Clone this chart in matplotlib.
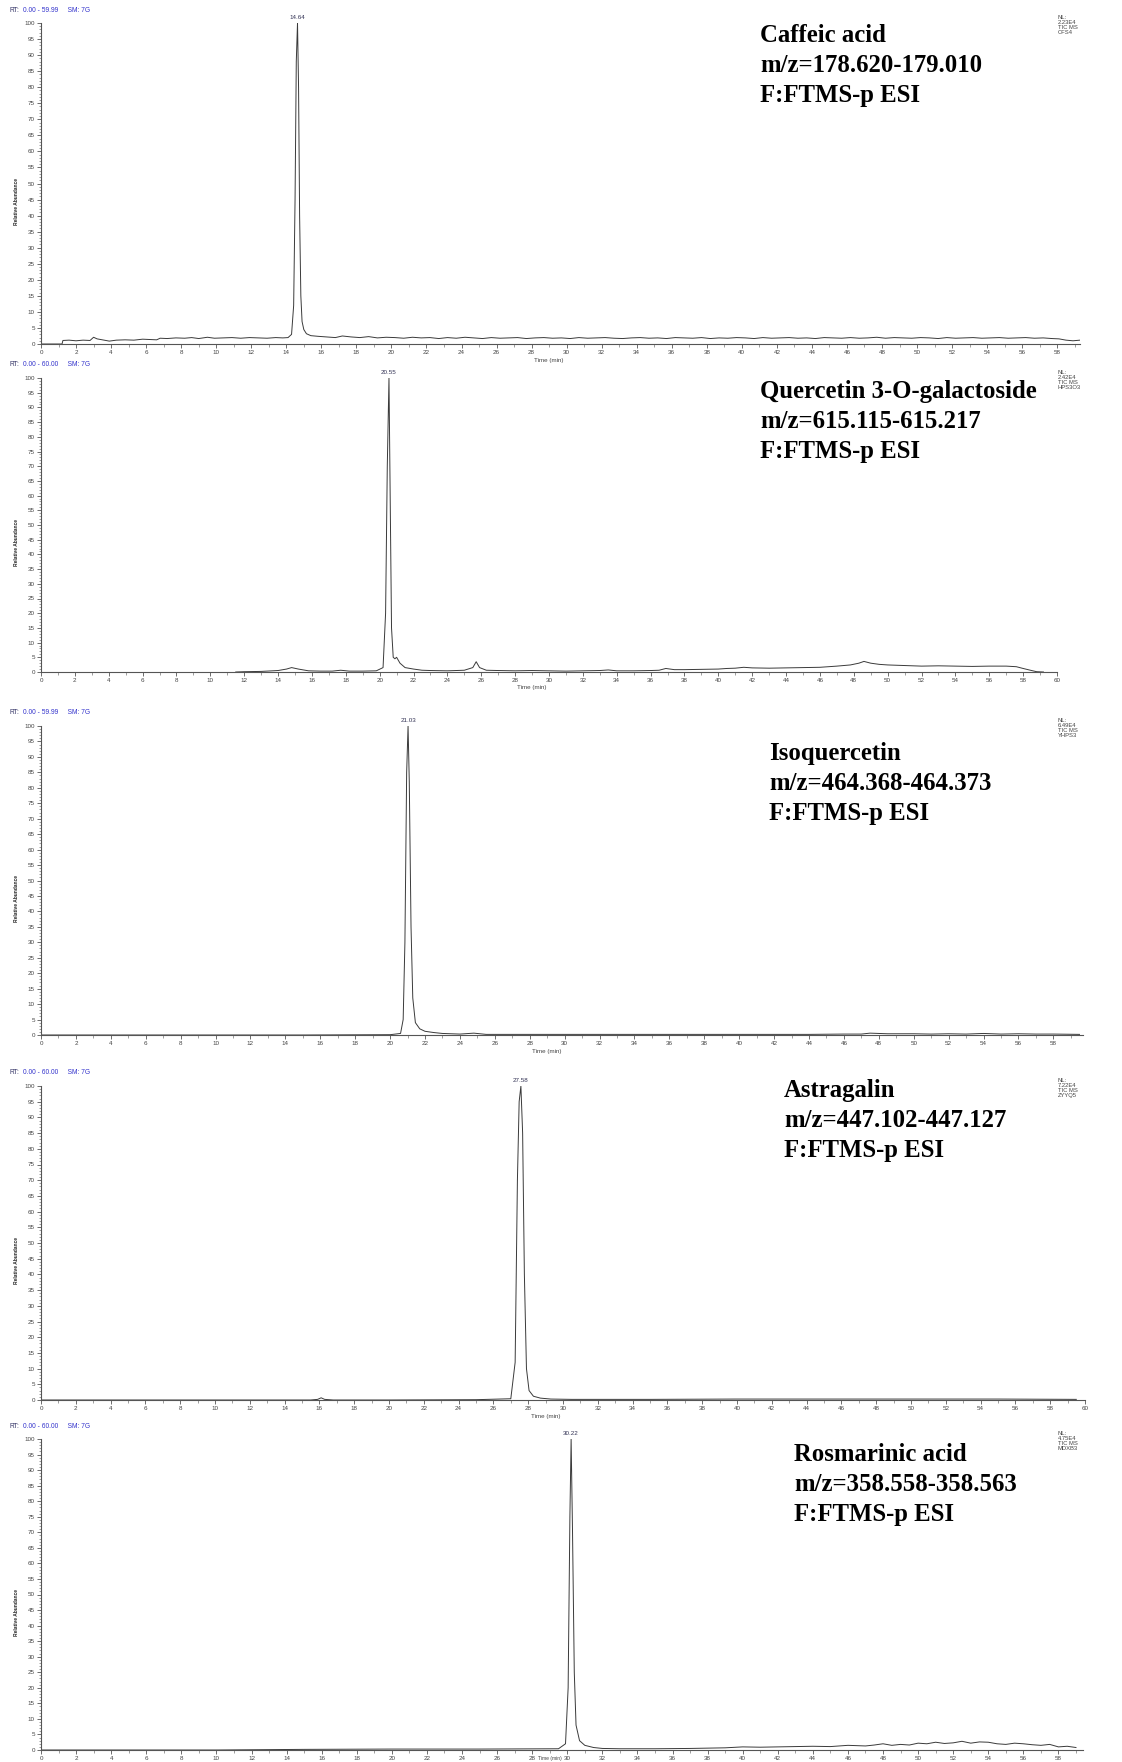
import matplotlib.pyplot as plt
from matplotlib.ticker import MultipleLocator

# ---- data (time in min, relative abundance %) ----
t_caffeic = [0, 1.2, 1.25, 1.6, 2.0, 2.4, 2.8, 3.0, 3.2, 3.6, 3.9, 4.3, 4.8, 5.3, 5.8, 6.2,
             6.6, 6.8, 7.2, 7.7, 8.2, 8.6, 9.0, 9.5, 9.9, 10.4, 10.9, 11.4, 11.9, 12.4, 12.9,
             13.4, 13.8, 14.1, 14.3, 14.42, 14.5, 14.57, 14.64, 14.7, 14.76, 14.83, 14.9,
             15.0, 15.15, 15.4, 15.8, 16.3, 16.8, 17.2, 17.7, 18.2, 18.7, 19.2, 19.7, 20.2,
             20.7, 21.2, 21.7, 22.2, 22.7, 23.2, 23.7, 24.2, 24.7, 25.2, 25.7, 26.2, 26.7,
             27.2, 27.7, 28.2, 28.7, 29.2, 29.7, 30.2, 30.7, 31.2, 31.7, 32.2, 32.7, 33.2,
             33.7, 34.2, 34.7, 35.2, 35.7, 36.2, 36.7, 37.2, 37.7, 38.2, 38.7, 39.2, 39.7,
             40.2, 40.7, 41.2, 41.7, 42.2, 42.7, 43.2, 43.7, 44.2, 44.7, 45.2, 45.7, 46.2,
             46.7, 47.2, 47.7, 48.2, 48.7, 49.2, 49.7, 50.2, 50.7, 51.2, 51.7, 52.2, 52.7,
             53.2, 53.7, 54.2, 54.7, 55.2, 55.7, 56.2, 56.7, 57.2, 57.7, 58.1, 58.5, 58.9, 59.3]
v_caffeic = [0, 0, 1.1, 1.2, 1.0, 1.2, 1.1, 2.1, 1.6, 1.2, 0.9, 1.2, 1.3, 1.2, 1.5, 1.4,
             1.3, 1.8, 1.7, 1.9, 1.8, 2.0, 1.7, 2.1, 1.8, 1.9, 2.0, 1.8, 2.0, 1.9, 1.8,
             2.0, 1.9, 2.0, 3.0, 12, 45, 88, 100, 80, 40, 15, 7,
             4.5, 3.2, 2.6, 2.4, 2.2, 2.0, 2.5, 2.2, 2.0, 2.3, 1.9, 2.1, 2.0,
             1.8, 2.1, 1.9, 2.0, 1.7, 2.0, 1.8, 2.1, 1.9, 1.7, 2.0, 1.8, 1.9,
             2.0, 1.7, 1.9, 2.0, 1.8, 1.9, 1.7, 2.0, 1.8, 1.9, 2.0, 1.8, 1.7,
             1.9, 2.0, 1.8, 1.9, 1.7, 2.0, 1.9, 1.8, 2.0, 1.7, 1.9, 1.8, 2.0,
             1.9, 1.7, 2.0, 1.8, 1.9, 2.0, 1.8, 1.9, 1.7, 2.0, 1.9, 1.8, 2.0,
             1.8, 1.9, 2.1, 1.8, 2.0, 1.9, 1.8, 2.0, 1.9, 1.7, 2.0, 1.8, 1.9,
             2.0, 1.8, 1.9, 2.0, 1.8, 1.9, 2.0, 1.8, 1.9, 1.7, 1.6, 1.2, 1.0, 1.2]

t_quercetin = [11.5, 12.0, 13.0, 14.0, 14.5, 14.8, 15.2, 15.8, 16.5, 17.2, 17.7, 18.2, 19.0,
               19.8, 20.2, 20.35, 20.45, 20.55, 20.62, 20.7, 20.8, 20.9, 21.0, 21.2, 21.5,
               22.0, 22.5, 23.0, 24.0, 25.0, 25.5, 25.7, 25.9, 26.3, 27.0, 28.0, 29.0, 30.0,
               31.0, 32.0, 33.0, 33.5, 34.0, 35.0, 36.0, 36.5, 36.9, 37.4, 38.0, 39.0, 40.0,
               40.5, 41.0, 41.5, 42.0, 43.0, 44.0, 45.0, 46.0, 47.0, 47.8, 48.3, 48.6, 49.0,
               49.5, 50.0, 51.0, 52.0, 53.0, 54.0, 55.0, 56.0, 57.0, 57.6, 58.0, 58.5, 58.8,
               59.2]
v_quercetin = [0, 0.1, 0.2, 0.5, 1.0, 1.5, 1.0, 0.4, 0.3, 0.3, 0.6, 0.3, 0.3,
               0.4, 1.5, 20, 70, 100, 60, 15, 5, 4.5, 5, 3, 1.5,
               1.0, 0.6, 0.5, 0.4, 0.6, 1.5, 3.5, 1.5, 0.6, 0.5, 0.4, 0.5, 0.4,
               0.3, 0.4, 0.5, 0.7, 0.4, 0.4, 0.5, 0.6, 1.2, 0.8, 0.8, 0.9, 1.0,
               1.2, 1.3, 1.6, 1.4, 1.3, 1.4, 1.5, 1.6, 2.0, 2.4, 3.0, 3.6, 3.0,
               2.6, 2.4, 2.2, 2.0, 2.1, 2.0, 1.9, 2.0, 2.0, 1.8, 1.2, 0.5, 0.1,
               0]

t_isoquercetin = [0, 5, 10, 15, 20.0, 20.6, 20.75, 20.85, 20.95, 21.03, 21.1, 21.2, 21.3,
                  21.45, 21.7, 22.0, 22.5, 23.0, 24.0, 24.8, 25.5, 27.0, 30.0, 33.0, 36.0,
                  40.0, 44.0, 46.0, 47.0, 47.5, 48.5, 50.0, 51.0, 52.0, 53.0, 54.0, 55.0,
                  56.0, 57.0, 58.0, 59.5]
v_isoquercetin = [0, 0, 0, 0, 0.1, 0.5, 5, 30, 85, 100, 82, 35, 12,
                  4, 2, 1.2, 0.8, 0.5, 0.3, 0.6, 0.2, 0.2, 0.2, 0.2, 0.2,
                  0.2, 0.2, 0.3, 0.3, 0.6, 0.4, 0.4, 0.3, 0.4, 0.3, 0.5, 0.3,
                  0.4, 0.3, 0.3, 0.2]

t_astragalin = [0, 5, 10, 15.5, 15.9, 16.1, 16.3, 16.8, 20, 25, 27.0, 27.25, 27.38, 27.48,
                27.58, 27.68, 27.78, 27.9, 28.05, 28.3, 28.7, 29.3, 30.5, 35, 40, 45, 50,
                55, 59.5]
v_astragalin = [0, 0, 0, 0, 0.2, 0.7, 0.2, 0, 0, 0.1, 0.4, 12, 70, 95,
                100, 85, 40, 10, 3, 1.2, 0.6, 0.3, 0.2, 0.2, 0.3, 0.3, 0.3,
                0.3, 0.2]

t_rosmarinic = [0, 5, 10, 15, 20, 25, 29.5, 29.9, 30.05, 30.15, 30.22, 30.3, 30.4, 30.5,
                30.7, 31.0, 31.5, 32.0, 33.0, 35.0, 37.0, 38.0, 39.0, 40.0, 41.0, 42.0,
                43.0, 44.0, 45.0, 46.0, 47.0, 47.5, 48.0, 48.5, 49.0, 49.5, 50.0, 50.5,
                51.0, 51.5, 52.0, 52.5, 53.0, 53.5, 54.0, 54.5, 55.0, 55.5, 56.0, 56.5,
                57.0, 57.5, 58.0, 58.5, 59.0]
v_rosmarinic = [0, 0, 0, 0.2, 0.3, 0.3, 0.4, 2, 20, 75, 100, 70, 25, 8,
                3, 1.5, 0.8, 0.5, 0.4, 0.4, 0.5, 0.6, 0.7, 1.0, 0.9, 1.0,
                1.1, 1.2, 1.1, 1.5, 1.3, 1.6, 2.0, 1.5, 1.8, 1.6, 2.2, 2.0,
                2.5, 2.1, 2.3, 2.8, 2.2, 2.6, 2.5, 2.0, 1.8, 2.2, 2.0, 1.7,
                1.5, 1.8, 1.0, 1.2, 0.8]

# labels for each panel
compounds = ['Caffeic acid', 'Quercetin 3-O-galactoside', 'Isoquercetin',
             'Astragalin', 'Rosmarinic acid']
mz_ranges = ['m/z=178.620-179.010', 'm/z=615.115-615.217', 'm/z=464.368-464.373',
             'm/z=447.102-447.127', 'm/z=358.558-358.563']
rt_ends = ['59.99', '60.00', '59.99', '60.00', '60.00']
peak_rts = [14.64, 20.55, 21.03, 27.58, 30.22]
nl_values = ['2.23E4', '2.42E4', '6.49E4', '7.22E4', '4.75E4']
sample_ids = ['CFS4', 'HPS3O3', 'YHPS3', 'ZYYQ5', 'MDXB3']
times = [t_caffeic, t_quercetin, t_isoquercetin, t_astragalin, t_rosmarinic]
values = [v_caffeic, v_quercetin, v_isoquercetin, v_astragalin, v_rosmarinic]

# panel layout in pixels: (y of 100, y of 0, right end of x axis, x max)
W, H = 1122, 1762
panels = [(23, 344, 1080, 59.3), (378, 672, 1057, 60), (726, 1035, 1083, 59.7),
          (1086, 1400, 1085, 60), (1439, 1750, 1083, 59.4)]
text_pos = [(760, 37), (760, 393), (769, 755), (784, 1092), (794, 1456)]

plt.rcParams['font.family'] = ['Liberation Sans', 'DejaVu Sans']
fig = plt.figure(figsize=(W / 100, H / 100), dpi=100)

tick_col = '#555555'
for i in range(5):
    ytop, ybot, xr, xmax = panels[i]
    ax = fig.add_axes([41 / W, 1 - ybot / H, (xr - 41) / W, (ybot - ytop) / H])
    ax.plot(times[i], values[i], color='#3a3a3a', lw=0.7)
    ax.set_xlim(0, xmax)
    ax.set_ylim(0, 100)
    for s in ['top', 'right']:
        ax.spines[s].set_visible(False)
    for s in ['left', 'bottom']:
        ax.spines[s].set_color(tick_col)
        ax.spines[s].set_linewidth(0.8)
    ax.xaxis.set_major_locator(MultipleLocator(2))
    ax.xaxis.set_minor_locator(MultipleLocator(1))
    ax.yaxis.set_major_locator(MultipleLocator(5))
    ax.yaxis.set_minor_locator(MultipleLocator(1))
    ax.tick_params(which='major', length=3, width=0.6, color=tick_col,
                   labelsize=4.5, labelcolor='#444444', pad=1.5)
    ax.tick_params(which='minor', length=1.8, width=0.4, color=tick_col)
    ax.set_xticks(range(0, 60 if xmax < 59.9 else 61, 2))
    ax.patch.set_alpha(0)

    # x label (last one squeezed between tick labels at the page edge)
    if i < 4:
        ax.text(29 / xmax, -0.045, 'Time (min)', transform=ax.transAxes, fontsize=4.5,
                color='#444444', ha='center', va='top')
    else:
        fig.text((41 + 29 * (xr - 41) / xmax) / W, 0.0005, 'Time (min)', fontsize=3.6,
                 color='#444444', ha='center', va='bottom')
    # y label
    fig.text(17 / W, 1 - (ytop + ybot) / 2 / H - 0.01, 'Relative Abundance', rotation=90,
             fontsize=3.5, color='#222222', ha='center', va='center', fontweight='bold')
    # RT header
    fig.text(10 / W, 1 - (ytop - 13) / H, 'RT:', fontsize=4.8, color='#333366', va='center')
    fig.text(23 / W, 1 - (ytop - 13) / H, '0.00 - ' + rt_ends[i] + '     SM: 7G',
             fontsize=4.8, color='#3333cc', va='center')
    # peak label
    ax.text(peak_rts[i], 101, '%.2f' % peak_rts[i], fontsize=4.5, color='#333355',
            ha='center', va='bottom')
    # NL block
    fig.text(1058 / W, 1 - (ytop - 8) / H, 'NL:\n' + nl_values[i] + '\nTIC MS\n' + sample_ids[i],
             fontsize=4.2, color='#444444', va='top', linespacing=1.0)
    # compound annotation
    tx, ty = text_pos[i]
    fig.text(tx / W, 1 - (ty - 13) / H,
             compounds[i] + '\n' + mz_ranges[i] + '\nF:FTMS-p ESI',
             fontsize=17.8, fontweight='bold', family='Liberation Serif', va='top',
             linespacing=1.38, color='black')

fig.savefig('out.png', dpi=100)
